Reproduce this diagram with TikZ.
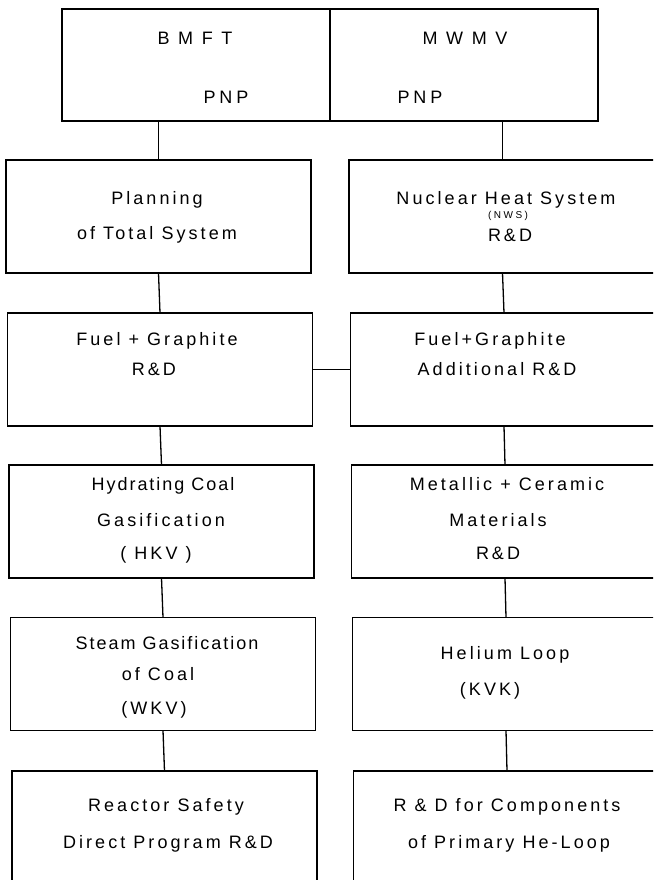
\documentclass[tikz,border=0pt]{standalone}
\usepackage{fontspec}
\newfontfamily\lbl[LetterSpace=17]{Liberation Sans}
\newfontfamily\lbltight[LetterSpace=11]{Liberation Sans}
\newfontfamily\lblwide[LetterSpace=48]{Liberation Sans}
\newfontfamily\lblmid[LetterSpace=22]{Liberation Sans}
\newfontfamily\lblsmall[LetterSpace=25]{Liberation Sans}
\begin{document}
\begin{tikzpicture}[x=1pt,y=-1pt,
  box/.style={draw, line width=1.5pt, inner sep=0pt, outer sep=0pt},
  topbox/.style={box, minimum width=268pt, minimum height=112pt},
  colL/.style={box, minimum width=305pt, minimum height=113pt},
  colR/.style={box, minimum width=307pt, minimum height=113pt},
  conn/.style={line width=1.3pt},
  txt/.style={font=\lbl\fontsize{18}{20}\selectfont, anchor=base, inner sep=0pt},
  tighttxt/.style={font=\lbltight\fontsize{18}{20}\selectfont, anchor=base, inner sep=0pt},
  toptxt/.style={font=\lblwide\fontsize{18}{20}\selectfont, anchor=base, inner sep=0pt},
  pnptxt/.style={font=\lblmid\fontsize{18}{20}\selectfont, anchor=base, inner sep=0pt},
  smalltxt/.style={font=\lblsmall\fontsize{10}{12}\selectfont, anchor=base, inner sep=0pt}]
\useasboundingbox (0,0) rectangle (653,880);
\clip (0,0) rectangle (653,880);
\fill[white] (0,0) rectangle (653,880);

% top box (two halves)
\node[topbox] (bmft) at (196,65) {};
\node[topbox] (mwmv) at (464,65) {};
\node[toptxt] (tbmft) at (195,45) {BMFT};
\node[toptxt] (tmwmv) at (465,45) {MWMV};
\node[pnptxt] (tpnpl) at (226,104) {PNP};
\node[pnptxt] (tpnpr) at (420,104) {PNP};

% left column
\node[colL] (plan) at (158.5,216.5) {};
\node[colL] (fuelL) at (160,369.5) {};
\node[colL] (hyd) at (161.5,521.5) {};
\node[colL] (steam) at (163,674) {};
\node[colL] (safety) at (164.5,827.5) {};

% right column
\node[colR] (nhs) at (502.5,216.5) {};
\node[colR] (fuelR) at (504,369.5) {};
\node[colR] (metal) at (505,521.5) {};
\node[colR] (helium) at (506,674) {};
\node[colR] (comp) at (507,827.5) {};

% connectors
\draw[conn] (plan.north |- bmft.south) -- (plan.north);
\draw[conn] (nhs.north |- mwmv.south) -- (nhs.north);
\draw[conn] (plan.south) -- (fuelL.north);
\draw[conn] (fuelL.south) -- (hyd.north);
\draw[conn] (hyd.south) -- (steam.north);
\draw[conn] (steam.south) -- (safety.north);
\draw[conn] (nhs.south) -- (fuelR.north);
\draw[conn] (fuelR.south) -- (metal.north);
\draw[conn] (metal.south) -- (helium.north);
\draw[conn] (helium.south) -- (comp.north);
\draw[conn] (fuelL.east) -- (fuelR.west);

% left texts
\node[txt] (t1a) at (157,204) {Planning};
\node[txt] (t1b) at (157,239) {of Total System};
\node[txt] (t2a) at (157,345) {Fuel + Graphite};
\node[txt] (t2b) at (154,375) {R\,\&\,D};
\node[tighttxt] (t3a) at (163,490) {Hydrating Coal};
\node[txt] (t3b) at (161,526) {Gasification};
\node[txt] (t3c) at (156,559) {( HKV )};
\node[tighttxt] (t4a) at (167,649) {Steam Gasification};
\node[txt] (t4b) at (158,680) {of Coal};
\node[txt] (t4c) at (154,714) {(\,WKV\,)};
\node[txt] (t5a) at (166,811) {Reactor Safety};
\node[txt] (t5b) at (168,848) {Direct Program R\&D};

% right texts
\node[txt] (r1a) at (506,204) {Nuclear Heat System};
\node[smalltxt] (r1b) at (508,218) {(NWS)};
\node[txt] (r1c) at (510,241) {R\,\&\,D};
\node[txt] (r2a) at (490,345) {Fuel+Graphite};
\node[txt] (r2b) at (497,375) {Additional R\,\&\,D};
\node[txt] (r3a) at (507,490) {Metallic + Ceramic};
\node[txt] (r3b) at (498,526) {Materials};
\node[txt] (r3c) at (498,559) {R\,\&\,D};
\node[txt] (r4a) at (505,659) {Helium Loop};
\node[txt] (r4b) at (490,695) {(KVK)};
\node[txt] (r5a) at (507,811) {R \& D for Components};
\node[txt] (r5b) at (509,848) {of Primary He-Loop};
\end{tikzpicture}
\end{document}
